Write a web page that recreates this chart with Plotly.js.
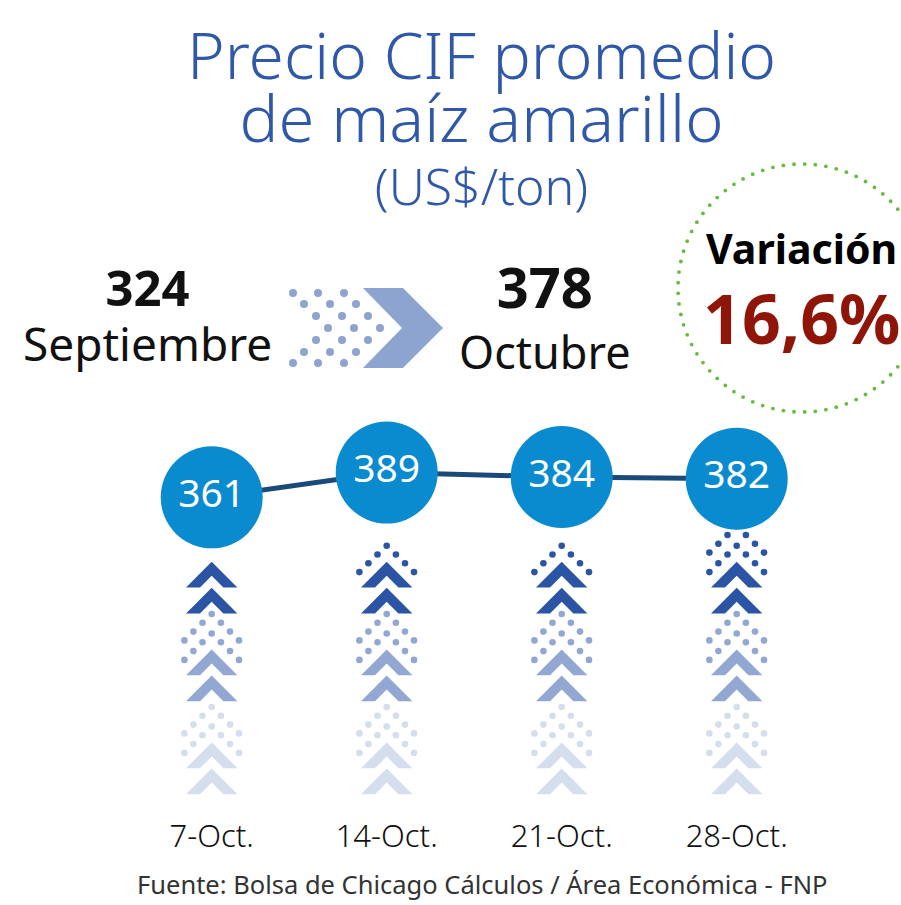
<!DOCTYPE html>
<html><head><meta charset="utf-8">
<script src="https://cdn.plot.ly/plotly-3.0.1.min.js"></script>
<style>html,body{margin:0;padding:0;background:#fff}</style>
</head><body><div id="chart" style="width:901px;height:905px"></div>
<script>
// ---------- data ----------
const dates = ['7-Oct.', '14-Oct.', '21-Oct.', '28-Oct.'];
const prices = [361, 389, 384, 382];
const monthLabels = ['Septiembre', 'Octubre'];
const monthValues = [324, 378];
const variationLabel = 'Variación';
const variationValue = '16,6%';
const titleLines = ['Precio CIF promedio', 'de maíz amarillo', '(US$/ton)'];
const sourceText = 'Fuente: Bolsa de Chicago Cálculos / Área Económica - FNP';
// decorative: which dot rows are shown in the dark (top) group of each column
const darkDotRows = [[], ['B'], ['B'], ['A', 'B']];

// ---------- layout helpers ----------
const W = 901, H = 905;
const X = px => px / W, Y = py => 1 - py / H;
const FONT = 'Noto Sans, Open Sans, sans-serif';
const COL0 = 211.7, COLSTEP = 175;
const colPx = i => COL0 + COLSTEP * i;
const yRange = [379 - (H - 481.4) / 0.885, 379 + 481.4 / 0.885];
const xRange = [-COL0 / COLSTEP, (W - COL0) / COLSTEP];

const shapes = [];
function dot(cx, cy, d, color) {
  shapes.push({type: 'circle', xref: 'paper', yref: 'paper', layer: 'below',
    x0: X(cx - d / 2), x1: X(cx + d / 2), y0: Y(cy + d / 2), y1: Y(cy - d / 2),
    fillcolor: color, line: {width: 0}});
}
function poly(pts, color) {
  const p = pts.map((q, k) => (k ? 'L' : 'M') + X(q[0]).toFixed(5) + ',' + Y(q[1]).toFixed(5)).join(' ') + ' Z';
  shapes.push({type: 'path', xref: 'paper', yref: 'paper', layer: 'below', path: p,
    fillcolor: color, line: {width: 0}});
}
function chevron(cx, ay, color) {
  const h = 25.7, t = 14;
  poly([[cx, ay], [cx + h, ay + h], [cx + h - t, ay + h], [cx, ay + t], [cx - h + t, ay + h], [cx - h, ay + h]], color);
}
function dotChevron(cx, ay, color) {
  const dx = [0, 9.2, 18.3, 27.3], dy = [0, 8.8, 17.6, 26.4];
  for (let k = 0; k < 4; k++) {
    dot(cx - dx[k], ay + dy[k], 6.6, color);
    if (k) dot(cx + dx[k], ay + dy[k], 6.6, color);
  }
}

const groupApex = [561.7, 649.5, 742.5];
const groupColor = ['#2B55A4', '#92A8D3', '#D5DEED'];
dates.forEach((d, i) => {
  const cx = colPx(i);
  groupApex.forEach((ay, g) => {
    const rows = g === 0 ? darkDotRows[i] : ['A', 'B'];
    if (rows.includes('A')) dotChevron(cx, ay - 35.5, groupColor[g]);
    if (rows.includes('B')) dotChevron(cx, ay - 16, groupColor[g]);
    chevron(cx, ay, groupColor[g]);
    chevron(cx, ay + 26, groupColor[g]);
  });
});

const arrowColor = '#8DA3D0';
[[293, [293, 318, 344]], [304, [304, 330, 356]], [316, [316, 342, 368]], [328, [328, 354, 380]],
 [340, [316, 342, 368]], [352, [304, 330, 356]], [363, [293, 318, 344]]]
  .forEach(r => r[1].forEach(x => dot(x, r[0], 8, arrowColor)));
poly([[363, 288], [403, 288], [443, 328], [403, 368], [363, 368], [402, 328]], arrowColor);

const gcx = 802, gcy = 288, gr = 124, gn = 73;
for (let k = 0; k < gn; k++) {
  const a = 2 * Math.PI * k / gn;
  dot(gcx + gr * Math.cos(a), gcy + gr * Math.sin(a), 3.8, '#66BB3F');
}

// ---------- texts ----------
const ann = (text, px, py, size, color, weight, yanchor) => ({
  text, xref: 'paper', yref: 'paper', x: X(px), y: Y(py), xanchor: 'center', yanchor: yanchor || 'middle',
  showarrow: false, font: {family: FONT, size, color, weight: weight || 400}
});
const span = (t, size, weight) => `<span style="font-size:${size}px;font-weight:${weight}">${t}</span>`;
const annotations = [
  ann(span(monthValues[0], 49, 700) + '<br>' + span(monthLabels[0], 46, 400), 147.5, 251.6, 42.3, '#111', 400, 'top'),
  ann(span(monthValues[1], 56, 700) + '<br>' + span(monthLabels[1], 45, 400), 545, 246.1, 46.9, '#111', 400, 'top'),
  ann(variationLabel, 801, 247.5, 41, '#000', 700),
  ann(variationValue, 801, 317.5, 68, '#8E1508', 700),
  ann(sourceText, 482.5, 883.5, 25.5, '#333', 400)
];

const trace = {
  type: 'scatter', mode: 'lines+markers+text',
  x: dates, y: prices, text: prices.map(String),
  textposition: 'middle center',
  textfont: {family: FONT, size: 39, color: '#ffffff'},
  line: {color: '#1A4A7A', width: 5},
  marker: {size: 102, color: '#0A8BD0', line: {width: 0}},
  cliponaxis: false, hoverinfo: 'skip', showlegend: false
};

const layout = {
  width: W, height: H,
  margin: {l: 0, r: 0, t: 0, b: 0, pad: 0},
  paper_bgcolor: '#ffffff', plot_bgcolor: 'rgba(0,0,0,0)',
  title: {
    text: span(titleLines[0], 64, 300) + '<br>' + span(titleLines[1], 65, 300) + '<br>' + span(titleLines[2], 50, 300),
    x: X(481.5), xanchor: 'center', y: Y(79), yanchor: 'top',
    font: {family: FONT, size: 48.5, color: '#2F58A8', weight: 300}
  },
  xaxis: {type: 'category', range: xRange, showgrid: false, zeroline: false, showline: false,
    ticks: '', anchor: 'free', position: Y(815), fixedrange: true,
    tickfont: {family: FONT, size: 31, color: '#111', weight: 300}},
  yaxis: {range: yRange, visible: false, fixedrange: true},
  shapes, annotations, showlegend: false
};

Plotly.newPlot('chart', [trace], layout, {staticPlot: true, displayModeBar: false});
</script>
</body></html>
